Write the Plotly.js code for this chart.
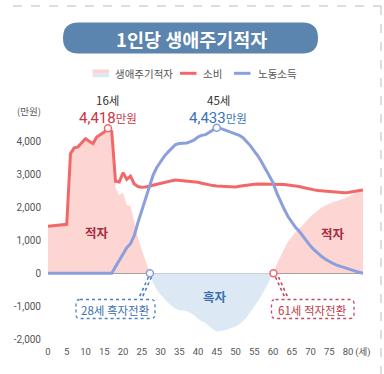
<!DOCTYPE html>
<html><head><meta charset="utf-8">
<script src="https://cdn.plot.ly/plotly-3.0.1.min.js"></script>
<style>html,body{margin:0;padding:0;background:#fff}#c{width:384px;height:374px}</style>
</head><body><div id="c"></div>
<script>
// ages 0..84
const ages = Array.from({length:85},(_,i)=>i);
const consumption = [1430,1445,1455,1465,1475,1490,3650,3820,3850,3960,4100,4020,3950,4150,4230,4300,4418,4320,2800,2780,
 3060,2860,2960,2720,2640,2620,2630,2660,2690,2720,2750,2770,2790,2820,2840,2830,2820,2820,2800,2780,
 2770,2740,2710,2690,2670,2660,2650,2640,2630,2620,2630,2650,2670,2690,2700,2710,2720,2720,2720,2720,
 2720,2720,2710,2700,2690,2680,2660,2640,2610,2580,2560,2540,2520,2510,2500,2490,2470,2450,2440,2450,
 2460,2480,2500,2520,2540];
const laborIncome = [0,0,0,0,0,0,0,0,0,0,0,0,0,0,0,0,0,0,200,400,
 600,780,900,1150,1550,1900,2250,2600,2980,3220,3400,3560,3690,3810,3920,3950,3950,3970,4010,4060,
 4150,4200,4220,4300,4370,4433,4410,4370,4330,4280,4250,4200,4130,4020,3880,3720,3570,3380,3180,2960,
 2760,2450,2180,1950,1730,1550,1400,1280,1120,980,830,710,600,510,430,360,300,250,210,170,
 130,90,60,30,0];
const xTickVals = [0,5,10,15,20,25,30,35,40,45,50,55,60,65,70,75,80,84];
const xTickText = ['0','5','10','15','20','25','30','35','40','45','50','55','60','65','70','75','80','(세)'];
const yTickVals = [-2000,-1000,0,1000,2000,3000,4000];
const yTickText = ['-2,000','-1,000','0','1,000','2,000','3,000','4,000'];
const seriesNames = ['생애주기적자','소비','노동소득'];
const peakConsAge = 16, peakIncAge = 45;

// derived deficit with crossings
const deficit = ages.map(i=>consumption[i]-laborIncome[i]);
const posX=[],posY=[],negX=[],negY=[],cross=[];
for(let i=0;i<ages.length;i++){
  const d=deficit[i];
  posX.push(ages[i]);posY.push(Math.max(d,0));
  negX.push(ages[i]);negY.push(Math.min(d,0));
  if(i<ages.length-1){
    const d2=deficit[i+1];
    if((d>0&&d2<0)||(d<0&&d2>0)){
      const xc=ages[i]+d/(d-d2);
      posX.push(xc);posY.push(0);negX.push(xc);negY.push(0);
      cross.push({x:xc,type:d>0?'surplus':'deficit'});
    }
  }
}
const c28 = cross.find(c=>c.type==='surplus');
const c61 = cross.find(c=>c.type==='deficit');

const RED='#f26868', BLUE='#8b9edd', PINK='#fdd6d3', LBLUE='#dce8f4';
const KR='"Noto Sans CJK KR", "Noto Sans", sans-serif';
const NUM='Roboto, "Noto Sans CJK KR", sans-serif';

const L=48,R=363,T=120,B=339;
const px=x=>(x-L)/(R-L), py=y=>(B-y)/(B-T);
function rrect(x0,y0,x1,y1,r){
  const P=(x,y)=>px(x)+','+py(y);
  return 'M'+P(x0+r,y0)+' L'+P(x1-r,y0)+' Q'+P(x1,y0)+' '+P(x1,y0+r)+' L'+P(x1,y1-r)+' Q'+P(x1,y1)+' '+P(x1-r,y1)+
   ' L'+P(x0+r,y1)+' Q'+P(x0,y1)+' '+P(x0,y1-r)+' L'+P(x0,y0+r)+' Q'+P(x0,y0)+' '+P(x0+r,y0)+' Z';
}
function pline(x0,y0,x1,y1,color,width,dash){
  return {type:'line',xref:'paper',yref:'paper',x0:px(x0),y0:py(y0),x1:px(x1),y1:py(y1),line:{color:color,width:width,dash:dash||'solid'}};
}
function ann(x,y,text,size,color,extra){
  return Object.assign({xref:'paper',yref:'paper',x:px(x),y:py(y),text:text,showarrow:false,xanchor:'center',yanchor:'middle',
    font:{family:KR,size:size,color:color}},extra||{});
}

const traces=[
  {x:posX,y:posY,type:'scatter',mode:'lines',fill:'tozeroy',fillcolor:PINK,line:{width:0},hoverinfo:'skip',name:seriesNames[0]},
  {x:negX,y:negY,type:'scatter',mode:'lines',fill:'tozeroy',fillcolor:LBLUE,line:{width:0},hoverinfo:'skip'},
  {x:ages,y:consumption,type:'scatter',mode:'lines',line:{color:RED,width:3},name:seriesNames[1]},
  {x:ages,y:laborIncome,type:'scatter',mode:'lines',line:{color:BLUE,width:3},name:seriesNames[2]},
  {x:[peakConsAge,c61.x],y:[consumption[peakConsAge],0],type:'scatter',mode:'markers',marker:{size:7,color:'#fff',line:{color:RED,width:1.5}}},
  {x:[peakIncAge,c28.x],y:[laborIncome[peakIncAge],0],type:'scatter',mode:'markers',marker:{size:7,color:'#fff',line:{color:BLUE,width:1.5}}}
];

const shapes=[
  pline(13,6,381,6,'#bdbdbd',1,'dash'),
  pline(381,6,381,374,'#bdbdbd',1,'dash'),
  {type:'path',xref:'paper',yref:'paper',path:rrect(63,22.5,318,53.5,15.5),fillcolor:'#5b84ae',line:{width:0}},
  // legend
  {type:'rect',xref:'paper',yref:'paper',x0:px(92.5),x1:px(109),y0:py(69.5),y1:py(73.3),fillcolor:'#fcd3d0',line:{width:0}},
  {type:'rect',xref:'paper',yref:'paper',x0:px(92.5),x1:px(109),y0:py(73.3),y1:py(77.2),fillcolor:LBLUE,line:{width:0}},
  pline(180,73.3,196.5,73.3,RED,3),
  pline(234,73.3,250.5,73.3,BLUE,3),
  // callouts
  {type:'path',xref:'paper',yref:'paper',path:rrect(76,299.5,155,318.5,4),fillcolor:'rgba(255,255,255,0)',line:{color:'#4c7fc0',width:1.3,dash:'dot'}},
  {type:'path',xref:'paper',yref:'paper',path:rrect(271.5,299.5,354,318.5,4),fillcolor:'rgba(255,255,255,0)',line:{color:'#c24a5c',width:1.3,dash:'dot'}},
  pline(148.5,277,138.5,299,'#4c7fc0',1.6,'dot'),
  pline(151.5,277,141.5,299,'#4c7fc0',1.6,'dot'),
  pline(275.5,277,285.5,299,'#c24a5c',1.6,'dot'),
  pline(278.5,277,288.5,299,'#c24a5c',1.6,'dot')
];

const annotations=[
  ann(191,38.5,'<b>1인당 생애주기적자</b>',18.5,'#ffffff'),
  ann(112.5,73.5,seriesNames[0],10.5,'#555',{xanchor:'left'}),
  ann(201,73.5,seriesNames[1],10.5,'#555',{xanchor:'left'}),
  ann(255.5,73.5,seriesNames[2],10.5,'#555',{xanchor:'left'}),
  ann(28.5,111.5,'(만원)',9.5,'#555'),
  ann(107.5,100,'16세',11.5,'#333'),
  ann(107.5,117.5,'<span style="font-family:Roboto;font-size:15px">4,418</span>만원',11.5,'#cc3344'),
  ann(218,100,'45세',11.5,'#333'),
  ann(218,117.5,'<span style="font-family:Roboto;font-size:15px">4,433</span>만원',11.5,'#3b73ba'),
  ann(97,232,'<b>적자</b>',12.5,'#a82a40'),
  ann(332.5,233,'<b>적자</b>',12.5,'#a82a40'),
  ann(215,296.5,'<b>흑자</b>',12.5,'#3b6fb2'),
  ann(115.5,309.5,'28세 흑자전환',11.5,'#3b70b5'),
  ann(312.5,309.5,'61세 적자전환',11.5,'#c0394a')
];

const layout={
  width:384,height:374,margin:{l:L,r:384-R,t:T,b:374-B},
  paper_bgcolor:'#fff',plot_bgcolor:'rgba(0,0,0,0)',showlegend:false,
  xaxis:{range:[0,84],showgrid:false,zeroline:false,showline:false,ticks:'',tickmode:'array',tickvals:xTickVals,ticktext:xTickText,
    tickangle:0,tickfont:{family:NUM,size:9.5,color:'#555'},ticklabelstandoff:5,fixedrange:true},
  yaxis:{range:[-2000,4667],showgrid:false,zeroline:true,zerolinecolor:'#8c8c8c',zerolinewidth:1.5,showline:false,ticks:'',
    tickmode:'array',tickvals:yTickVals,ticktext:yTickText,tickfont:{family:NUM,size:10,color:'#555'},ticklabelstandoff:6,fixedrange:true},
  shapes:shapes,annotations:annotations
};
Plotly.newPlot('c',traces,layout,{displayModeBar:false,staticPlot:true});
</script></body></html>
